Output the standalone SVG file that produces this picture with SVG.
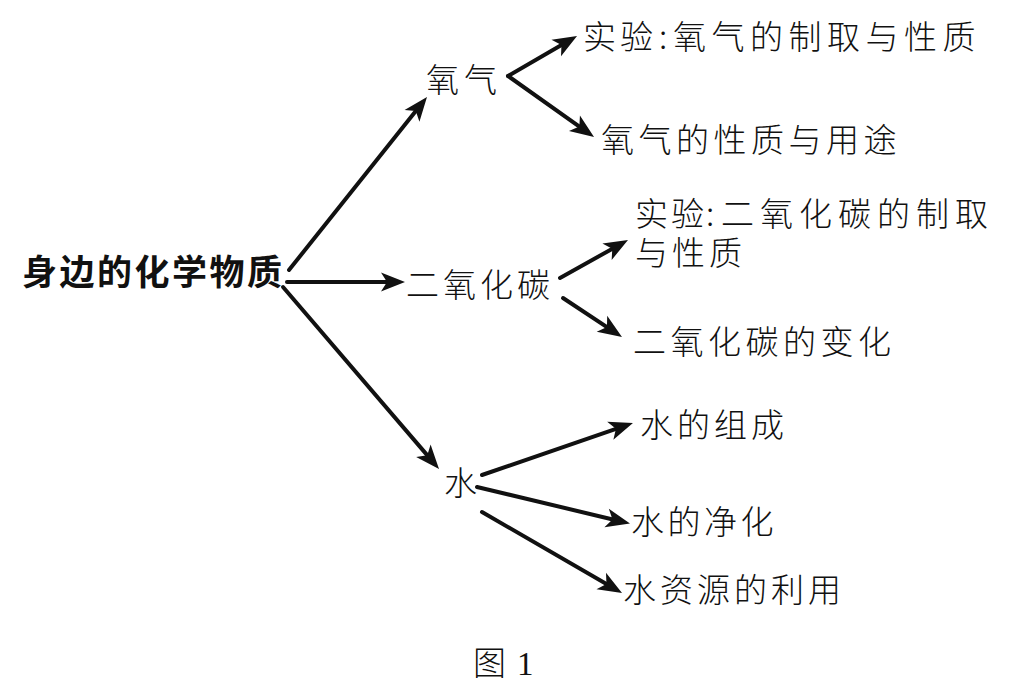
<svg xmlns="http://www.w3.org/2000/svg" width="1014" height="691" viewBox="0 0 1014 691">
<style>
.t{font-family:"Noto Sans CJK SC","Noto Sans",sans-serif;font-size:33px;font-weight:300;fill:#111}
.title{font-family:"Noto Sans CJK SC","Noto Sans",sans-serif;font-size:35px;font-weight:700;fill:#111;letter-spacing:2.5px}
.c{fill:none;stroke:#111;stroke-width:4;stroke-linecap:round}
</style>
<defs>
<marker id="ah" markerUnits="userSpaceOnUse" markerWidth="40" markerHeight="40" refX="0" refY="0" viewBox="-20 -20 40 40" orient="auto" overflow="visible">
<path d="M8,0 L-16,-9.5 L-10,0 L-16,9.5 Z" fill="#111"/>
</marker>
</defs>
<rect width="1014" height="691" fill="#fff"/>
<g id="connectors">
<path class="c" d="M289,270 L422,103.3" marker-end="url(#ah)"/>
<path class="c" d="M287,282 L397,282" marker-end="url(#ah)"/>
<path class="c" d="M283,287 L433.8,462.9" marker-end="url(#ah)"/>
<path class="c" d="M508,76 L570.1,40" marker-end="url(#ah)"/>
<path class="c" d="M508,76 L587.5,132.4" marker-end="url(#ah)"/>
<path class="c" d="M560,278 L621,243.9" marker-end="url(#ah)"/>
<path class="c" d="M563,298 L615.3,332.6" marker-end="url(#ah)"/>
<path class="c" d="M482,475 L625.4,425.6" marker-end="url(#ah)"/>
<path class="c" d="M477,487 L622.2,521.7" marker-end="url(#ah)"/>
<path class="c" d="M482,512 L615.1,589" marker-end="url(#ah)"/>
</g>
<g id="root"><text class="title" x="22" y="285">身边的化学物质</text></g>
<g id="oxygen"><text class="t" x="426" y="92" style="letter-spacing:5px">氧气</text></g>
<g id="oxygen-exp"><text class="t" y="49"><tspan x="583" style="letter-spacing:4px">实验</tspan><tspan x="659">:</tspan><tspan x="673" style="letter-spacing:5.5px">氧气的制取与性质</tspan></text></g>
<g id="oxygen-prop"><text class="t" x="601" y="152" style="letter-spacing:4.5px">氧气的性质与用途</text></g>
<g id="co2"><text class="t" x="406" y="297" style="letter-spacing:4px">二氧化碳</text></g>
<g id="co2-exp"><text class="t" y="226"><tspan x="635" style="letter-spacing:3px">实验</tspan><tspan x="706">:</tspan><tspan x="721" style="letter-spacing:6px">二氧化碳的制取</tspan></text><text class="t" x="635" y="265" style="letter-spacing:4px">与性质</text></g>
<g id="co2-change"><text class="t" x="633" y="354" style="letter-spacing:4.5px">二氧化碳的变化</text></g>
<g id="water"><text class="t" x="444" y="495">水</text></g>
<g id="water-comp"><text class="t" x="640" y="437" style="letter-spacing:4px">水的组成</text></g>
<g id="water-purify"><text class="t" x="631" y="534" style="letter-spacing:3.5px">水的净化</text></g>
<g id="water-use"><text class="t" x="623" y="602" style="letter-spacing:4px">水资源的利用</text></g>
<g id="caption"><text class="t" x="473" y="675">图</text><text x="517" y="675" style="font-family:'Liberation Serif',serif;font-size:33px;fill:#111">1</text></g>
</svg>
